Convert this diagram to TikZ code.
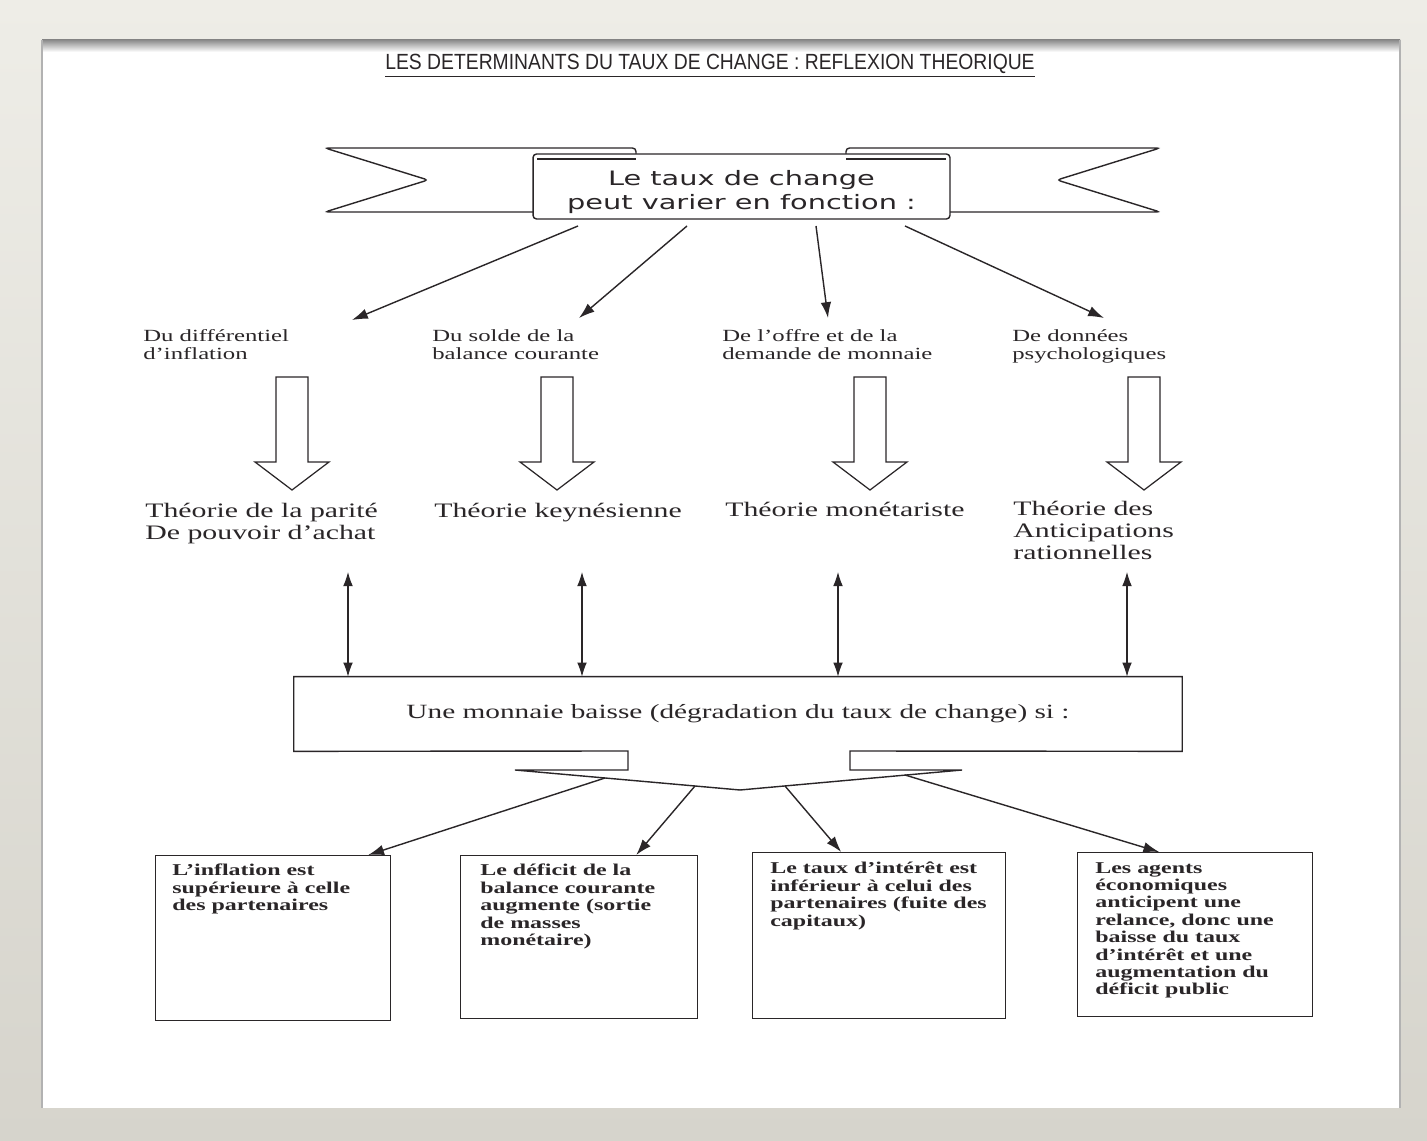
\documentclass[tikz,border=0pt]{standalone}
\usepackage{fontspec}
\usetikzlibrary{arrows.meta,calc}
\setmainfont{Liberation Serif}
\newfontfamily\wideserif[FakeStretch=1.45]{Liberation Serif}
\newfontfamily\widesans[FakeStretch=1.45]{DejaVu Sans}
\newfontfamily\titlesans[FakeStretch=0.88]{Liberation Sans}
\definecolor{framebg}{RGB}{214,212,204}
\definecolor{frametop}{RGB}{238,237,231}
\definecolor{ink}{RGB}{42,38,40}

\tikzset{
  box/.style={draw=ink, line width=0.8pt},
  lbl/.style={anchor=north west, inner sep=0pt, align=left, text=ink,
    font=\wideserif\fontsize{9.7}{10.2}\selectfont},
  theo/.style={anchor=north west, inner sep=0pt, align=left, text=ink,
    font=\wideserif\fontsize{11.7}{12.5}\selectfont},
  restxt/.style={anchor=north west, inner sep=0pt, align=left, text=ink,
    font=\wideserif\bfseries\fontsize{9.4}{9.9}\selectfont},
  tip/.style={draw=ink, line width=0.8pt, -{Latex[length=9pt,width=6pt]}},
  dtip/.style={draw=ink, line width=0.6pt,
    {Latex[length=8pt,width=5.5pt]}-{Latex[length=8pt,width=5.5pt]}},
}

\begin{document}
\begin{tikzpicture}[x=0.02cm, y=-0.02cm]
  \useasboundingbox (0,0) rectangle (1427,1141);
  % frame
  \shade[top color=frametop, bottom color=framebg] (0,0) rectangle (1427,1141);
  \fill[white] (42,40) rectangle (1400,1108);
  \shade[top color=black!45, bottom color=white] (42,40) rectangle (1400,52);
  \draw[black!30, line width=1pt] (42,40) -- (42,1108) (1400,40) -- (1400,1108);

  % title
  \node[anchor=base, text=ink, font=\titlesans\fontsize{12.5}{14}\selectfont] (title) at (710,70)
    {\underline{LES DETERMINANTS DU TAUX DE CHANGE : REFLEXION THEORIQUE}};

  % banner
  \draw[box, fill=white, rounded corners=2pt] (636,157) -- (636,148) -- (325,148) -- (428,180) -- (325,212) -- (560,212);
  \draw[box, fill=white, rounded corners=2pt] (846,157) -- (846,148) -- (1160,148) -- (1057,180) -- (1160,212) -- (920,212);
  \node[box, fill=white, rounded corners=2pt, minimum width=8.34cm, minimum height=1.3cm] (banner) at (741.5,186.5) {};
  \draw[box] (537,159) -- (636,159) (846,159) -- (946,159);
  \node[align=center, text=ink, font=\widesans\fontsize{11.3}{13.6}\selectfont] (bannertxt) at (741.5,192)
    {Le taux de change\\peut varier en fonction :};

  % arrows to the factors
  \foreach \i/\sx/\ex/\ey in {1/578/352/320, 2/687/579/318, 3/816/828/318, 4/905/1104/318}{
    \coordinate (from\i) at (\sx,226);
    \coordinate (to\i) at (\ex,\ey);
    \draw[tip] (from\i) -- (to\i);
  }
  \node[lbl] (src1) at (143,329) {Du différentiel\\d’inflation};
  \node[lbl] (src2) at (432,329) {Du solde de la\\balance courante};
  \node[lbl] (src3) at (722,329) {De l’offre et de la\\demande de monnaie};
  \node[lbl] (src4) at (1012,329) {De données\\psychologiques};

  % hollow arrows
  \foreach \c in {292,557,870,1144}{
    \draw[box, line width=0.7pt] (\c-16,377) -- (\c+16,377) -- (\c+16,462) -- (\c+37,462)
      -- (\c,490) -- (\c-37,462) -- (\c-16,462) -- cycle;
  }
  \node[theo] (th1) at (145,503) {Théorie de la parité\\De pouvoir d’achat};
  \node[theo] (th2) at (434,503) {Théorie keynésienne};
  \node[theo] (th3) at (725,502) {Théorie monétariste};
  \node[theo] (th4) at (1013,501) {Théorie des\\Anticipations\\rationnelles};

  % box with tab
  \node[minimum width=17.76cm, minimum height=1.48cm, inner sep=0pt, text=ink,
    font=\wideserif\fontsize{11.5}{13}\selectfont] (drop) at (738,714)
    {Une monnaie baisse (dégradation du taux de change) si :};
  \draw[box] (628,751) -- (drop.south west) -- (drop.north west) -- (drop.north east)
    -- (drop.south east) -- (850,751) -- (850,770) -- (962,770) -- (740,790)
    -- (515,770) -- (628,770) -- cycle;
  \foreach \i/\x in {1/348, 2/582, 3/838, 4/1127}{
    \coordinate (up\i) at (\x,572);
    \draw[dtip] (up\i) -- (up\i |- drop.north);
  }

  % result boxes
  \foreach \i/\x/\y/\w/\h in {1/155/855/235/165, 2/460/855/237/163, 3/752/852/253/166, 4/1077/852/235/164}{
    \node[box, anchor=north west, minimum width=\w*0.02cm, minimum height=\h*0.02cm] (res\i) at (\x,\y) {};
  }
  \node[restxt] (res1t) at ([shift={(17,9)}]res1.north west) {L’inflation est\\supérieure à celle\\des partenaires};
  \node[restxt] (res2t) at ([shift={(20,9)}]res2.north west) {Le déficit de la\\balance courante\\augmente (sortie\\de masses\\monétaire)};
  \node[restxt] (res3t) at ([shift={(18,10)}]res3.north west) {Le taux d’intérêt est\\inférieur à celui des\\partenaires (fuite des\\capitaux)};
  \node[restxt] (res4t) at ([shift={(18,10)}]res4.north west) {Les agents\\économiques\\anticipent une\\relance, donc une\\baisse du taux\\d’intérêt et une\\augmentation du\\déficit public};

  % arrows to the boxes
  \foreach \i/\vx/\vy/\dx in {1/605/778/95, 2/695/786/57, 3/785/786/-38, 4/905/775/-36}{
    \coordinate (v\i) at (\vx,\vy);
    \draw[tip] (v\i) -- ([shift={(\dx,0)}]res\i.north);
  }
\end{tikzpicture}
\end{document}
